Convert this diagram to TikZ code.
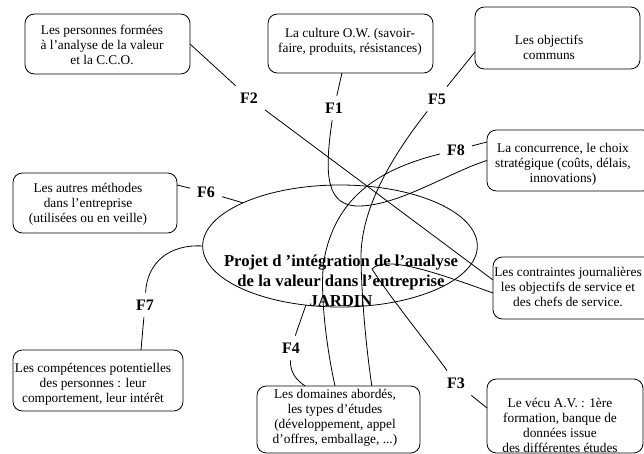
\documentclass[tikz,border=0pt]{standalone}
\usepackage{fontspec}
\setmainfont{Liberation Serif}
\usetikzlibrary{shapes.geometric}

\begin{document}
\begin{tikzpicture}[x=0.75pt, y=-0.75pt, line width=0.6pt,
    boite/.style={draw, rounded corners=7pt, inner sep=0pt, outer sep=0pt},
    texte/.style={align=center, inner sep=0pt, font=\fontsize{10}{11.25}\selectfont},
    fonc/.style={inner sep=5pt, font=\fontsize{12}{14}\selectfont\bfseries},
    titre/.style={align=center, inner sep=0pt, font=\fontsize{12.5}{15}\selectfont\bfseries}]
    \useasboundingbox (0,0) rectangle (644,454);

    % le projet
    \node[draw, ellipse, minimum width=206pt, minimum height=91.5pt, inner sep=0pt, outer sep=0pt] (proj) at (340,246) {};
    \node[titre] (ttl) at (341,281) {Projet d ’intégration de l’analyse\\de la valeur dans l’entreprise\\JARDIN};

    % les elements
    \node[boite, minimum width=123.75pt, minimum height=45pt] (b1) at (107.5,44) {};
    \node[texte] (t1) at (102,45) {Les personnes formées\\à l’analyse de la valeur\\et la C.C.O.};

    \node[boite, minimum width=123.75pt, minimum height=44.25pt] (b2) at (350.5,43.5) {};
    \node[texte] (t2) at (350,42) {La culture O.W. (savoir-\\faire, produits, résistances)};

    \node[boite, minimum width=123.75pt, minimum height=46.5pt] (b3) at (557.5,38) {};
    \node[texte] (t3) at (549,47) {Les objectifs\\communs};

    \node[boite, minimum width=123.75pt, minimum height=45.75pt] (b4) at (569.5,160.5) {};
    \node[texte] (t4) at (563,164) {La concurrence, le choix\\stratégique (coûts, délais,\\innovations)};

    \node[boite, minimum width=123pt, minimum height=45pt] (b5) at (95,203) {};
    \node[texte] (t5) at (88,204) {Les autres méthodes\\dans l’entreprise\\(utilisées ou en veille)};

    \node[boite, minimum width=121.5pt, minimum height=46.5pt] (b6) at (574,288) {};
    \node[texte] (t6) at (568,287) {Les contraintes journalières\\les objectifs de service et\\des chefs de service.};

    \node[boite, minimum width=127.5pt, minimum height=45.75pt] (b7) at (98,380.5) {};
    \node[texte] (t7) at (93,384) {Les compétences potentielles\\des personnes : leur\\comportement, leur intérêt};

    \node[boite, minimum width=122.25pt, minimum height=50.25pt] (b8) at (338.5,419.5) {};
    \node[texte] (t8) at (335,418) {Les domaines abordés,\\les types d’études\\(développement, appel\\d’offres, emballage, ...)};

    \node[boite, minimum width=117pt, minimum height=55.5pt] (b9) at (565,416) {};
    \node[texte] (t9) at (560,425) {Le vécu A.V. : 1ère\\formation, banque de\\données issue\\des différentes études};

    % les fonctions
    \node[fonc] (f1) at (334,108) {F1};
    \node[fonc] (f2) at (249,98) {F2};
    \node[fonc] (f3) at (456,383) {F3};
    \node[fonc] (f4) at (291,348) {F4};
    \node[fonc] (f5) at (437,99) {F5};
    \node[fonc] (f6) at (206,192) {F6};
    \node[fonc] (f7) at (145,305) {F7};
    \node[fonc] (f8) at (456,150) {F8};

    % F1
    \draw ([xshift=-6.4pt]b2.south) -- (f1);
    \draw (f1) .. controls (324,175) and (326,207) .. (360,206)
        .. controls (400,205) and (450,172) .. (b4.west);
    % F2
    \draw (b1.east) -- (f2);
    \draw (f2) -- ([yshift=6pt]b6.west);
    % F3
    \draw ([yshift=-3.75pt]b6.west) .. controls (435,272) and (385,255) .. (372,269)
        .. controls (392,300) and (425,340) .. (f3);
    \draw (f3) -- ([yshift=6pt]b9.west);
    % F4
    \draw (proj.240) -- (f4);
    \draw (f4) .. controls (290,372) and (296,380) .. ([xshift=-25pt]b8.north);
    % F5
    \draw ([yshift=-10.5pt]b3.west) -- (f5);
    \draw (f5) .. controls (385,165) and (360,215) .. (361,260)
        .. controls (362,310) and (368,360) .. ([xshift=25pt]b8.north);
    % F6
    \draw ([yshift=13.5pt]b5.east) -- (f6);
    \draw (f6) -- (proj.156);
    % F7
    \draw (proj.west) .. controls (170,244) and (147,262) .. (f7);
    \draw (f7) -- ([xshift=32.25pt]b7.north);
    % F8
    \draw (f8) -- ([yshift=13.9pt]b4.west);
    \draw (f8) .. controls (375,170) and (335,200) .. (324,260)
        .. controls (319,295) and (328,355) .. ([xshift=-2.6pt]b8.north);
\end{tikzpicture}
\end{document}
